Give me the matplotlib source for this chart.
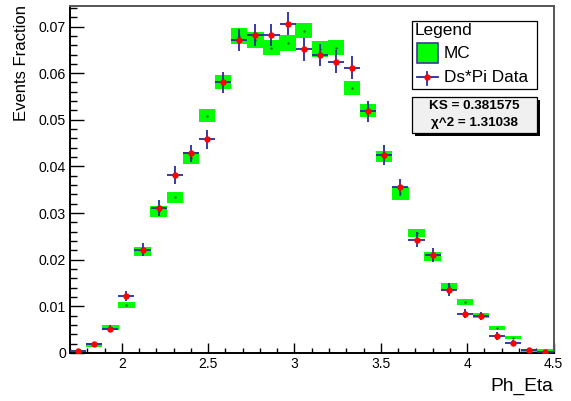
import numpy as np
import matplotlib
matplotlib.use("Agg")
import matplotlib.pyplot as plt
from matplotlib.ticker import MultipleLocator, FuncFormatter
from matplotlib.patches import Rectangle
from matplotlib.lines import Line2D

plt.rcParams['font.family'] = ['Liberation Sans', 'DejaVu Sans']

# ---- data ----
eta_lo, eta_hi, n_bins = 1.7, 4.5, 30
mc = [0.0004, 0.0017, 0.0054, 0.0103, 0.0218, 0.0304, 0.0334, 0.0418, 0.0509, 0.0581,
      0.0680, 0.0671, 0.0655, 0.0665, 0.0691, 0.0652, 0.0655, 0.0568, 0.0520, 0.0421,
      0.0342, 0.0257, 0.0207, 0.0143, 0.0109, 0.0081, 0.0054, 0.0033, 0.0006, 0.0005]
mc_err = [0.0003, 0.0004, 0.0005, 0.0006, 0.0009, 0.00114, 0.00114, 0.00136, 0.00147, 0.00157,
          0.00165, 0.00165, 0.00165, 0.00165, 0.00165, 0.00165, 0.00165, 0.0015, 0.00147, 0.00125,
          0.0013, 0.00093, 0.0009, 0.00075, 0.00064, 0.0005, 0.00043, 0.00032, 0.0003, 0.0003]
data = [0.0004, 0.0019, 0.0052, 0.0122, 0.0221, 0.0311, 0.0382, 0.0428, 0.0458, 0.0580,
        0.0671, 0.0682, 0.0682, 0.0706, 0.0651, 0.0639, 0.0625, 0.0612, 0.0518, 0.0425,
        0.0355, 0.0243, 0.0211, 0.0136, 0.0084, 0.0079, 0.0036, 0.0022, 0.0006, 0.0003]
data_err = [0.0003, 0.0005, 0.0008, 0.0010, 0.0014, 0.0017, 0.00186, 0.00186, 0.0021, 0.00225,
            0.0024, 0.0024, 0.0024, 0.0025, 0.0025, 0.0024, 0.0025, 0.0024, 0.00225, 0.0021,
            0.0019, 0.0016, 0.0015, 0.0014, 0.0010, 0.0009, 0.0008, 0.0006, 0.0003, 0.0003]
ks_text = "KS = 0.381575"
chi_text = "\u03c7^2 = 1.31038"
x_title = "Ph_Eta"
y_title = "Events Fraction"
legend_title = "Legend"
mc_label = "MC"
data_label = "Ds*Pi Data"

edges = np.linspace(eta_lo, eta_hi, n_bins + 1)
centers = 0.5 * (edges[:-1] + edges[1:])
bw = edges[1] - edges[0]
mc = np.array(mc); mc_err = np.array(mc_err)
data = np.array(data); data_err = np.array(data_err)

W, H = 571, 401
fig = plt.figure(figsize=(W / 100, H / 100), dpi=100)
L, R, T, B = 70, 553.5, 6, 353
ax = fig.add_axes([L / W, 1 - B / H, (R - L) / W, (B - T) / H])

GREEN = '#00ff00'
BLUE = '#2a2a9e'

ax.bar(centers, 2 * mc_err, bottom=mc - mc_err, width=bw * 1.02, color=GREEN,
       edgecolor='none', zorder=2)
ax.plot(centers, mc, linestyle='none', marker='s', ms=0.7, color='#007700', zorder=2.5)
ax.errorbar(centers, data, yerr=data_err, xerr=bw / 2, fmt='none', ecolor=BLUE,
            elinewidth=1.3, capsize=0, zorder=3)
ax.plot(centers, data, linestyle='none', marker='o', ms=4.6, mec='none', color='red', zorder=4)

ax.set_xlim(eta_lo, eta_hi)
ax.set_ylim(0, 0.0744)
ax.xaxis.set_major_locator(MultipleLocator(0.5))
ax.xaxis.set_minor_locator(MultipleLocator(0.1))
ax.yaxis.set_major_locator(MultipleLocator(0.01))
ax.yaxis.set_minor_locator(MultipleLocator(0.002))
ax.xaxis.set_major_formatter(FuncFormatter(lambda v, p: '%g' % round(v, 4)))
ax.yaxis.set_major_formatter(FuncFormatter(lambda v, p: '%g' % round(v, 5)))
ax.tick_params(axis='y', which='major', direction='in', length=10, width=1.0, pad=3,
               labelsize=10.2, colors='black')
ax.tick_params(axis='y', which='minor', direction='in', length=5, width=1.0)
ax.tick_params(axis='x', which='major', direction='in', length=7.2, width=1.0, pad=3.2,
               labelsize=10.0)
ax.tick_params(axis='x', which='minor', direction='in', length=3.6, width=1.0)
ax.tick_params(top=False, right=False, which='both')

for s in ['left', 'bottom']:
    ax.spines[s].set_color('black')
    ax.spines[s].set_linewidth(1.4)
for s in ['top', 'right']:
    ax.spines[s].set_color('#555555')
    ax.spines[s].set_linewidth(1.4)

# axis titles
ax.text(1.0, -(390.5 - B) / (B - T), x_title, transform=ax.transAxes, ha='right',
        va='baseline', fontsize=13.8)
fig.text(22 / W, 1 - 5 / H, y_title, rotation=90, ha='center', va='top', fontsize=12)

# legend box (pixel coords)
def fx(x): return x / W
def fy(y): return 1 - y / H

lx0, lx1, ly0, ly1 = 412.3, 536.7, 20.7, 89.3
fig.patches.append(Rectangle((fx(lx0), fy(ly1)), fx(lx1) - fx(lx0), fy(ly0) - fy(ly1),
                             transform=fig.transFigure, facecolor='white', edgecolor='black',
                             lw=0.9, zorder=5))
fig.text(fx(415), fy(30.7), legend_title, ha='left', va='center', fontsize=12.4, zorder=6)
fig.patches.append(Rectangle((fx(416.7), fy(63.3)), fx(438.3) - fx(416.7), fy(43.3) - fy(63.3),
                             transform=fig.transFigure, facecolor=GREEN, edgecolor='#3b3b8f',
                             lw=1.2, zorder=6))
fig.text(fx(444), fy(53.3), mc_label, ha='left', va='center', fontsize=12.4, zorder=6)
fig.lines.append(Line2D([fx(416.7), fx(438.3)], [fy(77.3), fy(77.3)], transform=fig.transFigure,
                        color=BLUE, lw=1.3, zorder=6))
fig.lines.append(Line2D([fx(427.3), fx(427.3)], [fy(71.5), fy(85)], transform=fig.transFigure,
                        color=BLUE, lw=1.3, zorder=6))
fig.lines.append(Line2D([fx(427.3)], [fy(77.3)], transform=fig.transFigure, marker='o',
                        ms=4.6, mec='none', color='red', zorder=7))
fig.text(fx(444), fy(77.3), data_label, ha='left', va='center', fontsize=12.4, zorder=6)

# stats box with shadow
sx0, sx1, sy0, sy1 = 412.3, 536.7, 97.3, 132.7
fig.patches.append(Rectangle((fx(sx0 + 3), fy(sy1 + 3)), fx(sx1) - fx(sx0), fy(sy0) - fy(sy1),
                             transform=fig.transFigure, facecolor='black', edgecolor='none',
                             zorder=5))
fig.patches.append(Rectangle((fx(sx0), fy(sy1)), fx(sx1) - fx(sx0), fy(sy0) - fy(sy1),
                             transform=fig.transFigure, facecolor='#f0f0f0', edgecolor='black',
                             lw=0.9, zorder=5.5))
fig.text(fx(474.5), fy(106), ks_text, ha='center', va='center', fontsize=9.7,
         fontweight='bold', zorder=6)
fig.text(fx(474.5), fy(123.3), chi_text, ha='center', va='center', fontsize=9.7,
         fontweight='bold', zorder=6)

fig.savefig('out.png', dpi=100, facecolor='white')
